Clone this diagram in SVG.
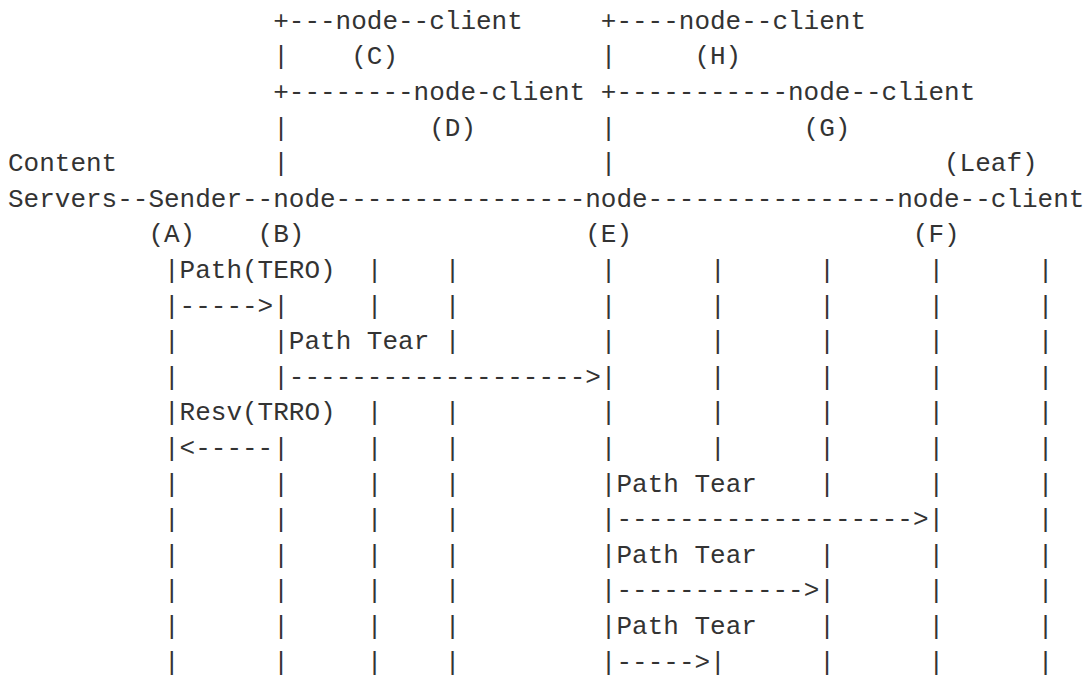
<svg xmlns="http://www.w3.org/2000/svg" width="1086" height="677" viewBox="0 0 1086 677">
  <style>
    text { font-family: "Liberation Mono", "DejaVu Sans Mono", monospace; font-size: 26px; fill: #333333; white-space: pre; }
  </style>
  <rect width="1086" height="677" fill="#ffffff"/>

  <!-- grid: column c at x = 8 + 15.6*c, row r baseline at y = 28.7 + 35.6*(r-1) -->

  <!-- tree links between the nodes -->
  <g id="connectors">
    <text x="273.2" y="28.7">+---</text>
    <text x="600.8" y="28.7">+----</text>
    <text x="273.2" y="64.3">|</text>
    <text x="600.8" y="64.3">|</text>
    <text x="273.2" y="99.9">+--------</text>
    <text x="600.8" y="99.9">+-----------</text>
    <text x="273.2" y="135.5">|</text>
    <text x="600.8" y="135.5">|</text>
    <text x="273.2" y="171.1">|</text>
    <text x="600.8" y="171.1">|</text>
    <text x="117.2" y="206.7">--</text>
    <text x="242" y="206.7">--</text>
    <text x="335.6" y="206.7">----------------</text>
    <text x="647.6" y="206.7">----------------</text>

    <!-- message sequence: one row of lifelines, messages and arrows per line, from column 10 -->
    <g id="sequence" xml:space="preserve">
      <text x="164" y="277.9">|Path(TERO)  |    |         |      |      |      |      |</text>
      <text x="164" y="313.5">|-----&gt;|     |    |         |      |      |      |      |</text>
      <text x="164" y="349.1">|      |Path Tear |         |      |      |      |      |</text>
      <text x="164" y="384.7">|      |-------------------&gt;|      |      |      |      |</text>
      <text x="164" y="420.3">|Resv(TRRO)  |    |         |      |      |      |      |</text>
      <text x="164" y="455.9">|&lt;-----|     |    |         |      |      |      |      |</text>
      <text x="164" y="491.5">|      |     |    |         |Path Tear    |      |      |</text>
      <text x="164" y="527.1">|      |     |    |         |-------------------&gt;|      |</text>
      <text x="164" y="562.7">|      |     |    |         |Path Tear    |      |      |</text>
      <text x="164" y="598.3">|      |     |    |         |------------&gt;|      |      |</text>
      <text x="164" y="633.9">|      |     |    |         |Path Tear    |      |      |</text>
      <text x="164" y="669.5">|      |     |    |         |-----&gt;|      |      |      |</text>
    </g>
  </g>

  <g id="content-servers">
    <text x="8" y="171.1">Content</text>
    <text x="8" y="206.7">Servers</text>
  </g>
  <g id="node-a-sender">
    <text x="148.4" y="206.7">Sender</text>
    <text x="148.4" y="242.3">(A)</text>
  </g>
  <g id="node-b">
    <text x="273.2" y="206.7">node</text>
    <text x="257.6" y="242.3">(B)</text>
  </g>
  <g id="node-c">
    <text x="335.6" y="28.7">node--client</text>
    <text x="351.2" y="64.3">(C)</text>
  </g>
  <g id="node-d">
    <text x="413.6" y="99.9">node-client</text>
    <text x="429.2" y="135.5">(D)</text>
  </g>
  <g id="node-e">
    <text x="585.2" y="206.7">node</text>
    <text x="585.2" y="242.3">(E)</text>
  </g>
  <g id="node-h">
    <text x="678.8" y="28.7">node--client</text>
    <text x="694.4" y="64.3">(H)</text>
  </g>
  <g id="node-g">
    <text x="788" y="99.9">node--client</text>
    <text x="803.6" y="135.5">(G)</text>
  </g>
  <g id="node-f-leaf">
    <text x="944" y="171.1">(Leaf)</text>
    <text x="897.2" y="206.7">node--client</text>
    <text x="912.8" y="242.3">(F)</text>
  </g>
</svg>
